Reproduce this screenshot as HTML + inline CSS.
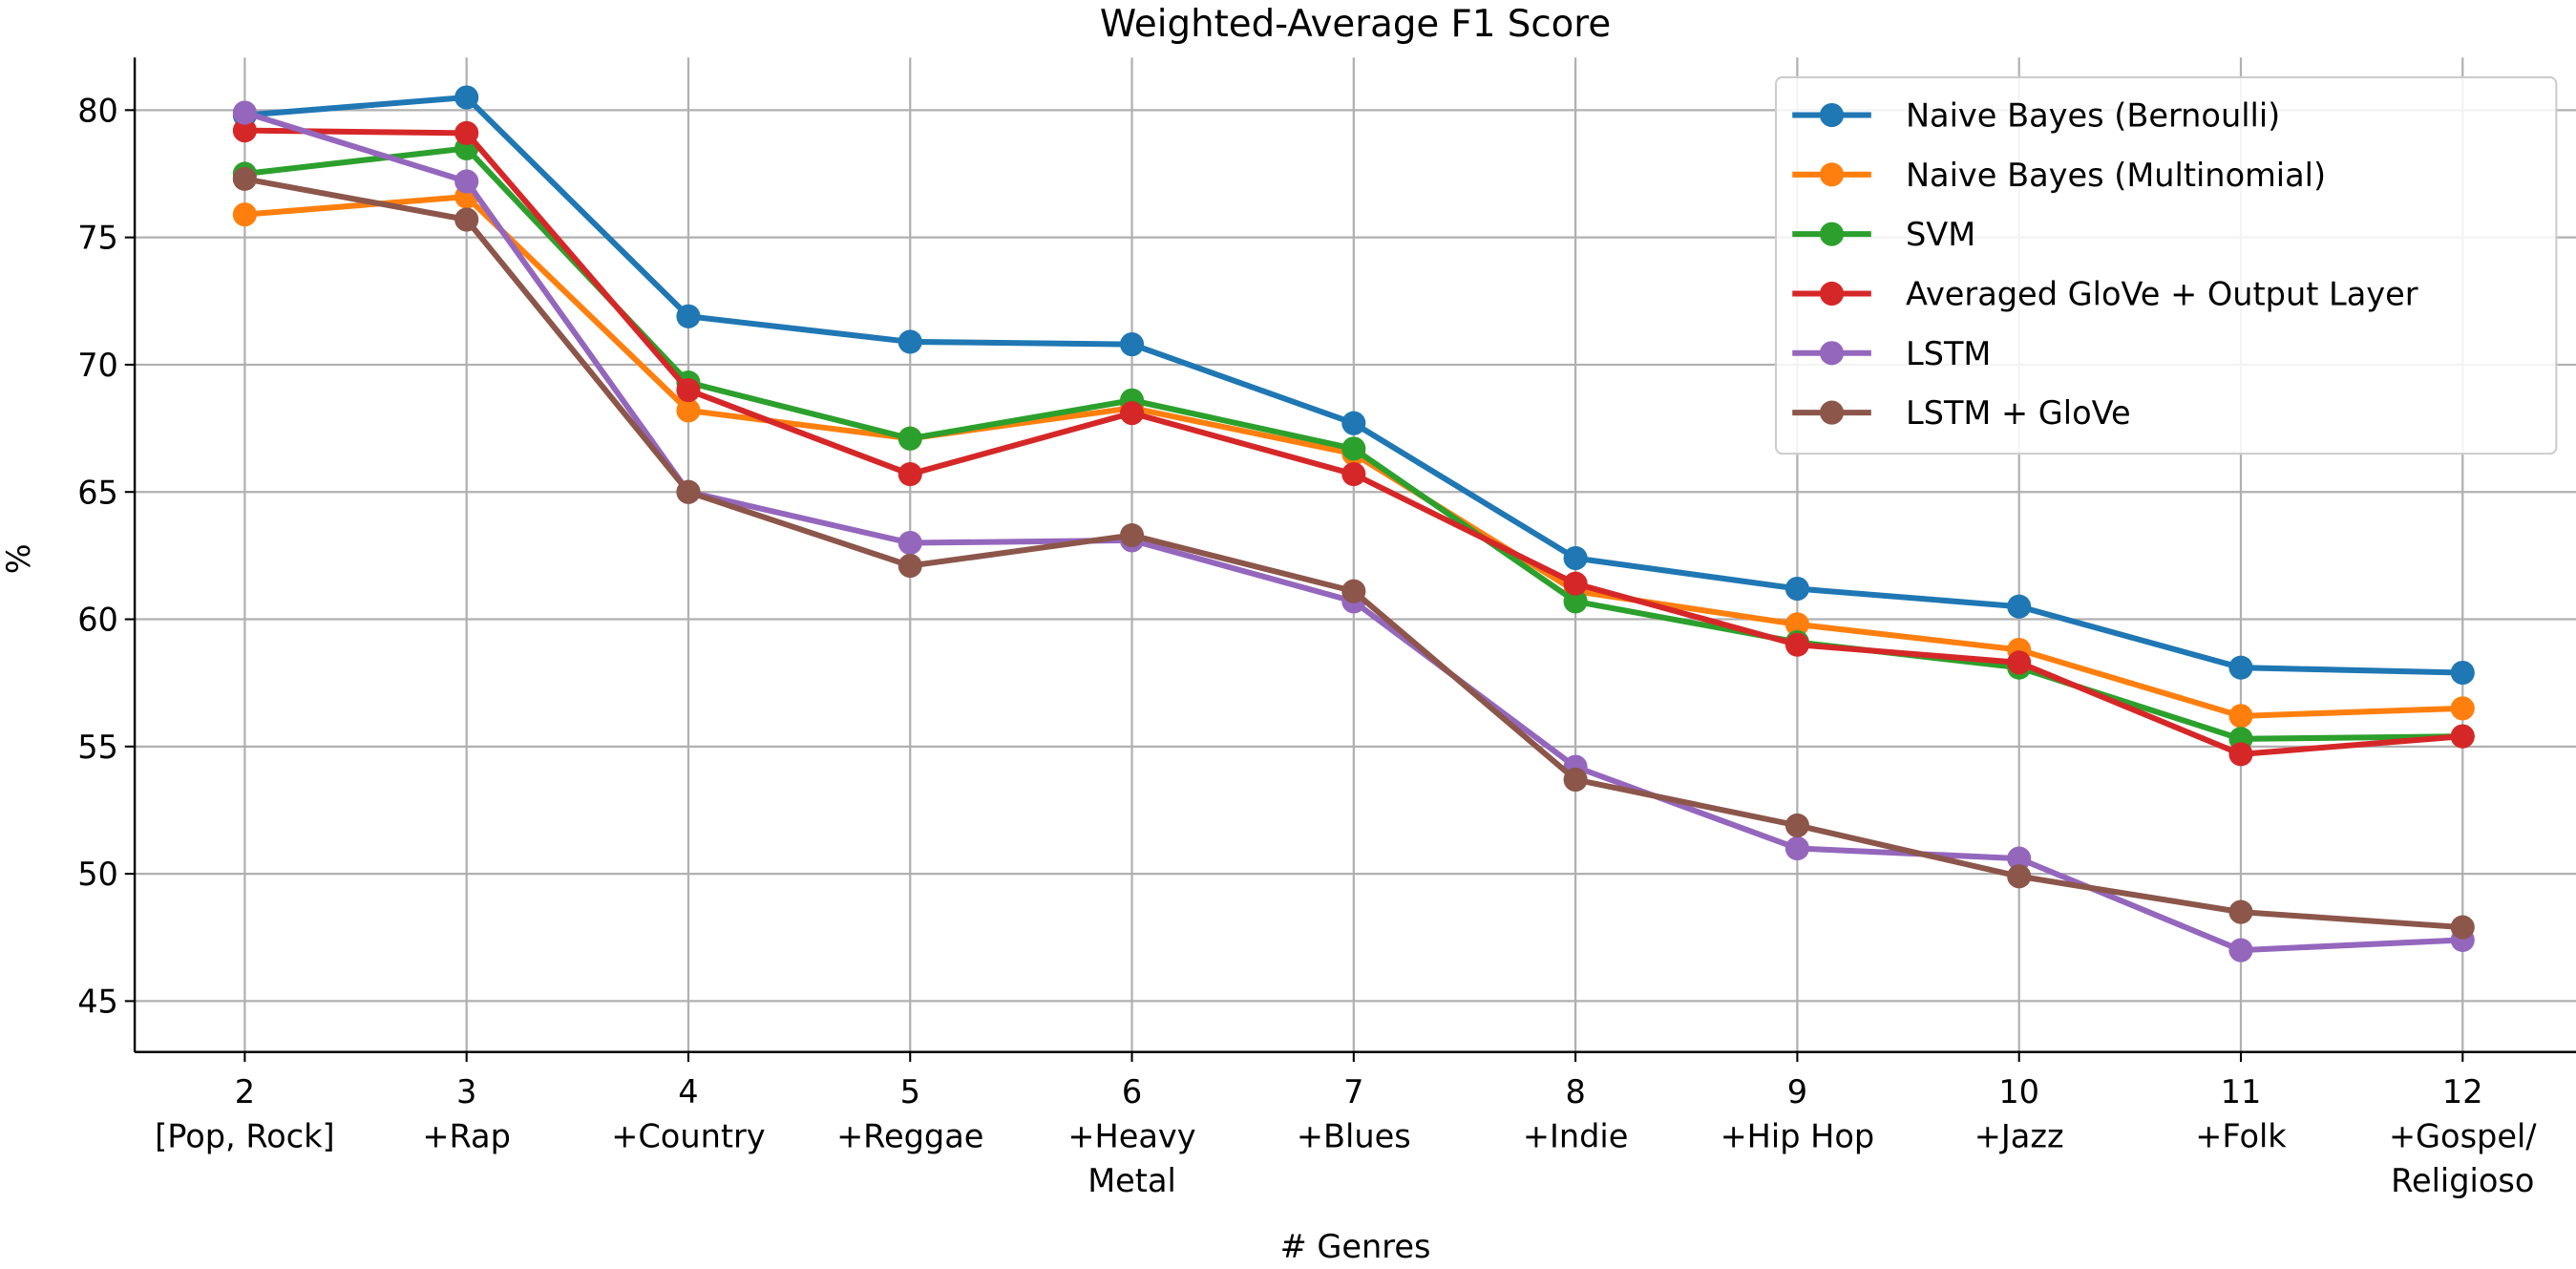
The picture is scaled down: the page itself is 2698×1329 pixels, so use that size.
<!DOCTYPE html>
<html><head><meta charset="utf-8"><style>
html,body{margin:0;padding:0;background:#fff;}
svg{display:block;font-family:"DejaVu Sans","Liberation Sans",sans-serif;}
</style></head><body>
<svg id="chart" width="2698" height="1329" viewBox="0 0 1568 772" preserveAspectRatio="none" xmlns="http://www.w3.org/2000/svg"></svg>
<script>
const categories = ["2|[Pop, Rock]","3|+Rap","4|+Country","5|+Reggae","6|+Heavy|Metal","7|+Blues","8|+Indie","9|+Hip Hop","10|+Jazz","11|+Folk","12|+Gospel/|Religioso"];
const yTicks = [45,50,55,60,65,70,75,80];
const seriesNames = ["Naive Bayes (Bernoulli)","Naive Bayes (Multinomial)","SVM","Averaged GloVe + Output Layer","LSTM","LSTM + GloVe"];
const colors = ["#1f77b4","#ff7f0e","#2ca02c","#d62728","#9467bd","#8c564b"];
const nbBernoulli = [79.8,80.5,71.9,70.9,70.8,67.7,62.4,61.2,60.5,58.1,57.9];
const nbMultinomial = [75.9,76.6,68.2,67.1,68.3,66.5,61.1,59.8,58.8,56.2,56.5];
const svm = [77.5,78.5,69.3,67.1,68.6,66.7,60.7,59.1,58.1,55.3,55.4];
const gloveOut = [79.2,79.1,69.0,65.7,68.1,65.7,61.4,59.0,58.3,54.7,55.4];
const lstm = [79.9,77.2,65.0,63.0,63.1,60.7,54.2,51.0,50.6,47.0,47.4];
const lstmGlove = [77.3,75.7,65.0,62.1,63.3,61.1,53.7,51.9,49.9,48.5,47.9];
const allSeries = [nbBernoulli,nbMultinomial,svm,gloveOut,lstm,lstmGlove];

const svg = document.getElementById('chart');
const NS = "http://www.w3.org/2000/svg";
const L=82, R=1568, T=35, B=640;
function x(i){return 149 + i*135;}
function y(v){return 67 + (80-v)*15.486;}
function mk(tag, attrs, parent){const e=document.createElementNS(NS,tag);for(const k in attrs)e.setAttribute(k,attrs[k]);(parent||svg).appendChild(e);return e;}

const grid = mk('g',{});


categories.forEach((c,i)=>{mk('line',{x1:x(i),x2:x(i),y1:T,y2:B,stroke:'#b0b0b0','stroke-width':1.3},grid);});
yTicks.forEach(v=>{mk('line',{x1:L,x2:R,y1:y(v),y2:y(v),stroke:'#b0b0b0','stroke-width':1.3},grid);});

const axes = mk('g',{});


mk('line',{x1:L,x2:L,y1:T,y2:B,stroke:'#000','stroke-width':1.4},axes);
mk('line',{x1:L,x2:R,y1:B,y2:B,stroke:'#000','stroke-width':1.4},axes);

yTicks.forEach(v=>{
  mk('line',{x1:L-6,x2:L,y1:y(v),y2:y(v),stroke:'#000','stroke-width':1.2},axes);
  const t=mk('text',{x:L-10,y:y(v)+7,'text-anchor':'end','font-size':19.5},axes);
  t.textContent=v;
  
  
});
categories.forEach((c,i)=>{
  mk('line',{x1:x(i),x2:x(i),y1:B,y2:B+6,stroke:'#000','stroke-width':1.2},axes);
  const t=mk('text',{x:x(i),'text-anchor':'middle','font-size':19.5},axes);
  
  
  c.split('|').forEach((s,j)=>{const ts=mk('tspan',{x:x(i),y:671+j*27},t);ts.textContent=s;});
});

allSeries.forEach((data,si)=>{
  const g=mk('g',{});
  
  
  mk('polyline',{points:data.map((v,i)=>x(i)+','+y(v)).join(' '),fill:'none',stroke:colors[si],'stroke-width':3.5,'stroke-linejoin':'round'},g);
  data.forEach((v,i)=>{
    const c=mk('circle',{cx:x(i),cy:y(v),r:7.3,fill:colors[si]},g);
    
    
  });
});

const title=mk('text',{x:825,y:22,'text-anchor':'middle','font-size':22.5});
title.textContent='Weighted-Average F1 Score';


const xl=mk('text',{x:825,y:765,'text-anchor':'middle','font-size':19.5});
xl.textContent='# Genres';


const yl=mk('text',{x:18,y:340,'text-anchor':'middle','font-size':19.5,transform:'rotate(-90 18 340)'});
yl.textContent='%';



const lg=mk('g',{});


mk('rect',{x:1081,y:47,width:475,height:229,rx:4,fill:'#fff','fill-opacity':0.85,stroke:'#ccc','stroke-width':1.2},lg);
seriesNames.forEach((n,i)=>{
  const e=mk('g',{},lg);
  
  
  const yy=70+i*36.2;
  mk('line',{x1:1091,x2:1139,y1:yy,y2:yy,stroke:colors[i],'stroke-width':3.5},e);
  mk('circle',{cx:1115,cy:yy,r:7.3,fill:colors[i]},e);
  const t=mk('text',{x:1160,y:yy+7,'font-size':19.5},e);
  t.textContent=n;
});
</script>
</body></html>
